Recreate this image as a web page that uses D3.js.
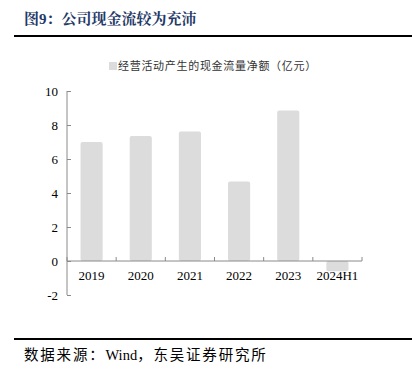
<!DOCTYPE html>
<html>
<head>
<meta charset="utf-8">
<script src="https://cdn.jsdelivr.net/npm/d3@7"></script>
<style>
  body { margin: 0; background: #fff; }
  svg { display: block; }
</style>
</head>
<body>
<script>
// data
var years = ["2019", "2020", "2021", "2022", "2023", "2024H1"];
var cashFlow = [7.0, 7.35, 7.62, 4.68, 8.85, -0.6];
var yTicks = [-2, 0, 2, 4, 6, 8, 10];
var seriesName = "经营活动产生的现金流量净额（亿元）";

var W = 412, H = 376;
var margin = {left: 67, right: 50, top: 91, bottom: 81};

var svg = d3.select("body").append("svg")
    .attr("width", W)
    .attr("height", H);

// title + rule
svg.append("text")
    .attr("x", 24).attr("y", 24)
    .attr("font-family", "'Liberation Serif', 'Noto Serif CJK SC', 'Noto Sans CJK SC', serif")
    .attr("font-weight", "bold")
    .attr("font-size", 15)
    .attr("fill", "#1f3a68")
    .text("图9：公司现金流较为充沛");

svg.append("line")
    .attr("x1", 14).attr("x2", 412)
    .attr("y1", 36).attr("y2", 36)
    .attr("stroke", "#000").attr("stroke-width", 2);

svg.append("line")
    .attr("x1", 14).attr("x2", 412)
    .attr("y1", 339).attr("y2", 339)
    .attr("stroke", "#000").attr("stroke-width", 2);

// source line, CJK spaced a little wider than the latin word
var src = svg.append("text")
    .attr("x", 24).attr("y", 360)
    .attr("font-family", "'Liberation Serif', 'Noto Sans CJK SC', serif")
    .attr("font-size", 14.5)
    .attr("fill", "#000");
src.append("tspan").attr("letter-spacing", 1.8).text("数据来源：");
src.append("tspan").text("Wind");
src.append("tspan").attr("letter-spacing", 1.8).text("，东吴证券研究所");

var width = W - margin.left - margin.right;   // 295
var g = svg.append("g")
    .attr("transform", "translate(" + margin.left + ",0)");

var x = d3.scaleBand().domain(years).range([0, width]).paddingInner(0.55).paddingOuter(0.275);
var xTicks = d3.scaleBand().domain(years).range([0, width]);
var y = d3.scaleLinear().domain([-2, 10]).range([295, 91]);

// bars
g.selectAll("rect.bar").data(cashFlow).enter()
    .append("rect")
    .attr("class", "bar")
    .attr("x", function(d, i){ return x(years[i]); })
    .attr("width", x.bandwidth())
    .attr("y", function(d){ return y(Math.max(0, d)); })
    .attr("height", function(d){ return Math.abs(y(d) - y(0)); })
    .attr("rx", 2)
    .attr("fill", "#dcdcdc");

// y axis
var yAxis = d3.axisLeft(y).tickValues(yTicks).tickSize(-4).tickPadding(9)
    .tickFormat(function(d){ return String(d); });
var yG = g.append("g").call(yAxis);
yG.select(".domain").attr("stroke", "#8a8a8a").attr("d", "M0," + y(-2) + "V" + y(10));
yG.selectAll(".tick line").attr("stroke", "#8a8a8a");
yG.selectAll(".tick text")
    .attr("font-family", "'Liberation Serif', serif")
    .attr("font-size", 13)
    .attr("fill", "#000");

// x axis line at zero with boundary ticks pointing up
var xG = g.append("g").attr("transform", "translate(0," + y(0) + ")");
xG.append("line")
    .attr("x1", 0).attr("x2", width)
    .attr("stroke", "#8a8a8a");
var bounds = years.map(function(d){ return xTicks(d); }).concat([width]);
xG.selectAll("line.tk").data(bounds).enter()
    .append("line").attr("class", "tk")
    .attr("x1", function(d){ return d; }).attr("x2", function(d){ return d; })
    .attr("y1", 0).attr("y2", -4)
    .attr("stroke", "#8a8a8a");
xG.selectAll("text").data(years).enter()
    .append("text")
    .attr("x", function(d){ return xTicks(d) + xTicks.bandwidth() / 2; })
    .attr("y", 19)
    .attr("text-anchor", "middle")
    .attr("font-family", "'Liberation Serif', serif")
    .attr("font-size", 13)
    .attr("fill", "#000")
    .text(function(d){ return d; });

// legend
svg.append("rect")
    .attr("x", 109).attr("y", 62)
    .attr("width", 8).attr("height", 8)
    .attr("fill", "#dcdcdc");
svg.append("text")
    .attr("x", 118).attr("y", 70)
    .attr("font-family", "'Noto Sans CJK SC', sans-serif")
    .attr("font-size", 11)
    .attr("letter-spacing", 0.7)
    .attr("fill", "#333")
    .text(seriesName);
</script>
</body>
</html>
